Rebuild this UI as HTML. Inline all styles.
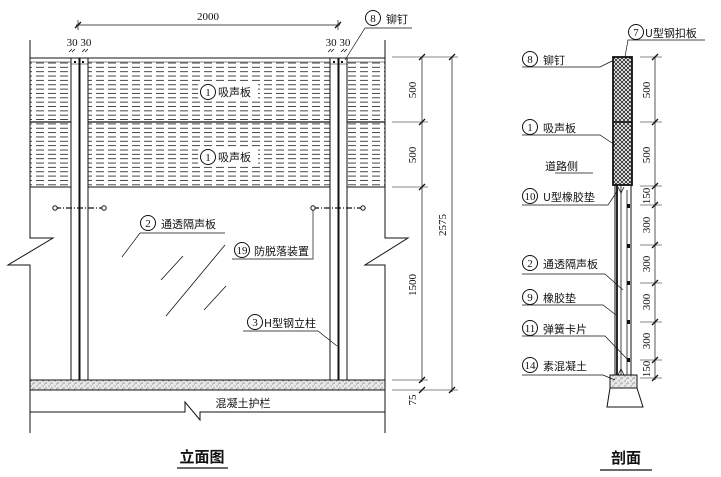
<!DOCTYPE html>
<html><head><meta charset="utf-8"><style>
html,body{margin:0;padding:0;background:#fff}
svg{display:block}
text{font-family:"Liberation Serif","Noto Serif CJK SC","Noto Sans CJK SC",serif;fill:#111}
.c{font-family:"Noto Sans CJK SC","WenQuanYi Zen Hei",sans-serif;font-size:11px}
.n{font-size:11px}
</style></head><body>
<svg width="721" height="477" viewBox="0 0 721 477" xmlns="http://www.w3.org/2000/svg">
<defs>
<pattern id="dash" width="12" height="4.35" patternUnits="userSpaceOnUse" y="62">
<line x1="0" y1="1" x2="8" y2="1" stroke="#333" stroke-width="0.9"/>
</pattern>
<pattern id="xh" width="4" height="4" patternUnits="userSpaceOnUse">
<path d="M0,0 L4,4 M4,0 L0,4" stroke="#222" stroke-width="0.8"/>
</pattern>
<pattern id="stip" width="6" height="5" patternUnits="userSpaceOnUse">
<rect width="6" height="5" fill="#e8e8e8"/>
<circle cx="1" cy="1" r="0.5" fill="#333"/><circle cx="4" cy="3" r="0.6" fill="#555"/><circle cx="2.5" cy="4" r="0.4" fill="#222"/>
</pattern>
</defs>
<g stroke="#111" stroke-width="1" fill="none">
<rect x="30" y="62" width="355" height="125" fill="url(#dash)" stroke="none"/>
<rect x="198" y="84" width="60" height="16" fill="#fff" stroke="none"/>
<rect x="198" y="149" width="60" height="16" fill="#fff" stroke="none"/>
<line x1="30" y1="58" x2="385" y2="58"/>
<line x1="30" y1="62" x2="385" y2="62" stroke-width="0.6"/>
<line x1="30" y1="122" x2="385" y2="122" stroke-width="1.2"/>
<line x1="30" y1="187" x2="385" y2="187"/>
<rect x="71" y="58" width="17" height="322" fill="#fff"/>
<rect x="330" y="58" width="17" height="322" fill="#fff"/>
<line x1="79.5" y1="58" x2="79.5" y2="380" stroke-width="2"/>
<line x1="338.5" y1="58" x2="338.5" y2="380" stroke-width="2"/>
<line x1="71" y1="64" x2="88" y2="64" stroke-width="0.6"/>
<line x1="330" y1="64" x2="347" y2="64" stroke-width="0.6"/>
<path d="M30,40 V238 H53 L8,265 H30 V433"/>
<path d="M385,40 V238 H408 L365,265 H385 V433"/>
<rect x="30" y="380" width="355" height="10" fill="url(#stip)"/>
<path d="M30,412 H185 V402 L200,420 V412 H385"/>
<line x1="76" y1="25" x2="340" y2="25" stroke-width="0.7"/>
<line x1="78" y1="20" x2="78" y2="30" stroke-width="0.7"/><line x1="338" y1="20" x2="338" y2="30" stroke-width="0.7"/>
<path d="M75,28 l6,-6 M335,28 l6,-6" stroke-width="1.3"/>
<path d="M69,52 l3,-3 M72,52 l3,-3 M82,52 l3,-3 M85,52 l3,-3 M328,52 l3,-3 M331,52 l3,-3 M341,52 l3,-3 M344,52 l3,-3" stroke-width="0.8"/>
<line x1="422" y1="57" x2="422" y2="382" stroke-width="0.7"/>
<line x1="452" y1="57" x2="452" y2="392" stroke-width="0.7"/>
<path d="M392,57 H458 M392,122 H428 M392,187 H428 M392,380 H428 M392,390 H458" stroke-width="0.5"/>
<path d="M419,60 l6,-6 M419,125 l6,-6 M419,190 l6,-6 M419,383 l6,-6 M419,393 l6,-6 M449,60 l6,-6 M449,393 l6,-6" stroke-width="1.3"/>
<line x1="55" y1="208" x2="104" y2="208" stroke-dasharray="6,2,1,2" stroke-width="1.2"/>
<line x1="313" y1="208" x2="363" y2="208" stroke-dasharray="6,2,1,2" stroke-width="1.2"/>
<circle cx="55" cy="208" r="2.2" fill="#fff"/><circle cx="104" cy="208" r="2.2" fill="#fff"/>
<circle cx="313" cy="208" r="2.2" fill="#fff"/><circle cx="363" cy="208" r="2.2" fill="#fff"/>
<path d="M161,280 L183,256 M166,316 L225,245 M204,310 L226,286" stroke-width="0.8"/>
<path d="M140,233 H225 M140,233 L122,257" stroke-width="0.7"/>
<path d="M232,259 H313 V210" stroke-width="0.7"/>
<path d="M243,331 H318 L337,346" stroke-width="0.7"/>
<path d="M412,28 H365 L345,60" stroke-width="0.7"/>
<circle cx="148" cy="223" r="7.5"/><circle cx="242" cy="250" r="7.5"/><circle cx="255" cy="322" r="7.5"/><circle cx="373" cy="18" r="7.5"/>
<circle cx="208" cy="92" r="7.5"/><circle cx="208" cy="157" r="7.5"/>
<line x1="177" y1="468" x2="228" y2="468" stroke-width="1.2"/>
<rect x="613" y="57" width="19" height="128" fill="url(#xh)" stroke-width="1.8"/>
<line x1="613" y1="122" x2="632" y2="122" stroke-width="1.5"/>
<line x1="615" y1="185" x2="615" y2="375" stroke-width="1"/>
<line x1="617" y1="185" x2="617" y2="375" stroke-width="1.8"/>
<line x1="621" y1="185" x2="621" y2="375" stroke-width="0.8"/>
<line x1="627" y1="190" x2="627" y2="375" stroke-width="0.8"/>
<line x1="631" y1="185" x2="631" y2="375" stroke-width="1"/>
<path d="M618,187 l3,6 l3,-6 M618,375 l3,-6 l3,6" stroke-width="0.8"/>
<rect x="610" y="375" width="27" height="13" fill="url(#stip)"/>
<path d="M610,388 L607,407 H643 L637,388"/>
<line x1="655" y1="57" x2="655" y2="380" stroke-width="0.7"/>
<path d="M640,57 H662 M640,122 H662 M640,186 H662 M640,205 H662 M640,245 H662 M640,283 H662 M640,322 H662 M640,360 H662 M640,378 H662" stroke-width="0.5"/>
<path d="M652,60 l6,-6 M652,125 l6,-6 M652,189 l6,-6 M652,208 l6,-6 M652,248 l6,-6 M652,286 l6,-6 M652,325 l6,-6 M652,363 l6,-6 M652,381 l6,-6" stroke-width="1.3"/>
<path d="M705,40 H628 L625,57" stroke-width="0.7"/>
<path d="M522,67 H600 L612,61" stroke-width="0.7"/>
<path d="M522,135 H600 L615,145" stroke-width="0.7"/>
<path d="M555,173 H593" stroke-width="0.7"/>
<path d="M522,205 H608 L618,190" stroke-width="0.7"/>
<path d="M522,274 H605 L623,290" stroke-width="0.7"/>
<path d="M522,305 H603 L616,315" stroke-width="0.7"/>
<path d="M522,336 H605 L630,362" stroke-width="0.7"/>
<path d="M522,375 H603 L615,380" stroke-width="0.7"/>
<circle cx="636" cy="32" r="7.5"/><circle cx="530" cy="59" r="7.5"/><circle cx="530" cy="127" r="7.5"/>
<circle cx="530" cy="196" r="7.5"/><circle cx="530" cy="263" r="7.5"/><circle cx="530" cy="297" r="7.5"/>
<circle cx="530" cy="328" r="7.5"/><circle cx="530" cy="365" r="7.5"/>
<line x1="600" y1="470" x2="652" y2="470" stroke-width="1.2"/>
</g>
<g fill="#111">
<rect x="627" y="204" width="3" height="4"/><rect x="627" y="244" width="3" height="4"/><rect x="627" y="281" width="3" height="4"/><rect x="627" y="320" width="3" height="4"/><rect x="627" y="358" width="3" height="4"/>
<rect x="74" y="61" width="2" height="2"/><rect x="82" y="61" width="2" height="2"/><rect x="333" y="61" width="2" height="2"/><rect x="341" y="61" width="2" height="2"/>
</g>
<g>
<text x="208" y="20" class="n" text-anchor="middle">2000</text>
<text x="79" y="46" class="n" text-anchor="middle" font-size="10">30 30</text>
<text x="338" y="46" class="n" text-anchor="middle" font-size="10">30 30</text>
<text x="208" y="96" class="n" text-anchor="middle" font-size="10">1</text><text x="218" y="96" class="c">吸声板</text>
<text x="208" y="161" class="n" text-anchor="middle" font-size="10">1</text><text x="218" y="161" class="c">吸声板</text>
<text x="148" y="227" class="n" text-anchor="middle" font-size="10">2</text><text x="161" y="228" class="c">通透隔声板</text>
<text x="242" y="254" class="n" text-anchor="middle" font-size="10">19</text><text x="254" y="255" class="c">防脱落装置</text>
<text x="255" y="326" class="n" text-anchor="middle" font-size="10">3</text><text x="264" y="327" class="c">H型钢立柱</text>
<text x="373" y="22" class="n" text-anchor="middle" font-size="10">8</text><text x="386" y="23" class="c">铆钉</text>
<text x="243" y="407" class="c" text-anchor="middle">混凝土护栏</text>
<text x="202" y="462" class="c" text-anchor="middle" style="font-size:15px;font-weight:bold">立面图</text>
<text transform="translate(416,90) rotate(-90)" class="n" text-anchor="middle">500</text>
<text transform="translate(416,155) rotate(-90)" class="n" text-anchor="middle">500</text>
<text transform="translate(416,285) rotate(-90)" class="n" text-anchor="middle">1500</text>
<text transform="translate(446,225) rotate(-90)" class="n" text-anchor="middle">2575</text>
<text transform="translate(416,400) rotate(-90)" class="n" text-anchor="middle">75</text>
<text x="636" y="36" class="n" text-anchor="middle" font-size="10">7</text><text x="645" y="37" class="c">U型钢扣板</text>
<text x="530" y="63" class="n" text-anchor="middle" font-size="10">8</text><text x="543" y="64" class="c">铆钉</text>
<text x="530" y="131" class="n" text-anchor="middle" font-size="10">1</text><text x="543" y="132" class="c">吸声板</text>
<text x="545" y="170" class="c">道路侧</text>
<text x="530" y="200" class="n" text-anchor="middle" font-size="10">10</text><text x="543" y="201" class="c">U型橡胶垫</text>
<text x="530" y="267" class="n" text-anchor="middle" font-size="10">2</text><text x="543" y="268" class="c">通透隔声板</text>
<text x="530" y="301" class="n" text-anchor="middle" font-size="10">9</text><text x="543" y="302" class="c">橡胶垫</text>
<text x="530" y="332" class="n" text-anchor="middle" font-size="10">11</text><text x="543" y="333" class="c">弹簧卡片</text>
<text x="530" y="369" class="n" text-anchor="middle" font-size="10">14</text><text x="543" y="370" class="c">素混凝土</text>
<text x="626" y="463" class="c" text-anchor="middle" style="font-size:15px;font-weight:bold">剖面</text>
<text transform="translate(650,90) rotate(-90)" class="n" text-anchor="middle">500</text>
<text transform="translate(650,155) rotate(-90)" class="n" text-anchor="middle">500</text>
<text transform="translate(650,196) rotate(-90)" class="n" text-anchor="middle">150</text>
<text transform="translate(650,225) rotate(-90)" class="n" text-anchor="middle">300</text>
<text transform="translate(650,264) rotate(-90)" class="n" text-anchor="middle">300</text>
<text transform="translate(650,302) rotate(-90)" class="n" text-anchor="middle">300</text>
<text transform="translate(650,341) rotate(-90)" class="n" text-anchor="middle">300</text>
<text transform="translate(650,369) rotate(-90)" class="n" text-anchor="middle">150</text>
</g>
</svg>
</body></html>
